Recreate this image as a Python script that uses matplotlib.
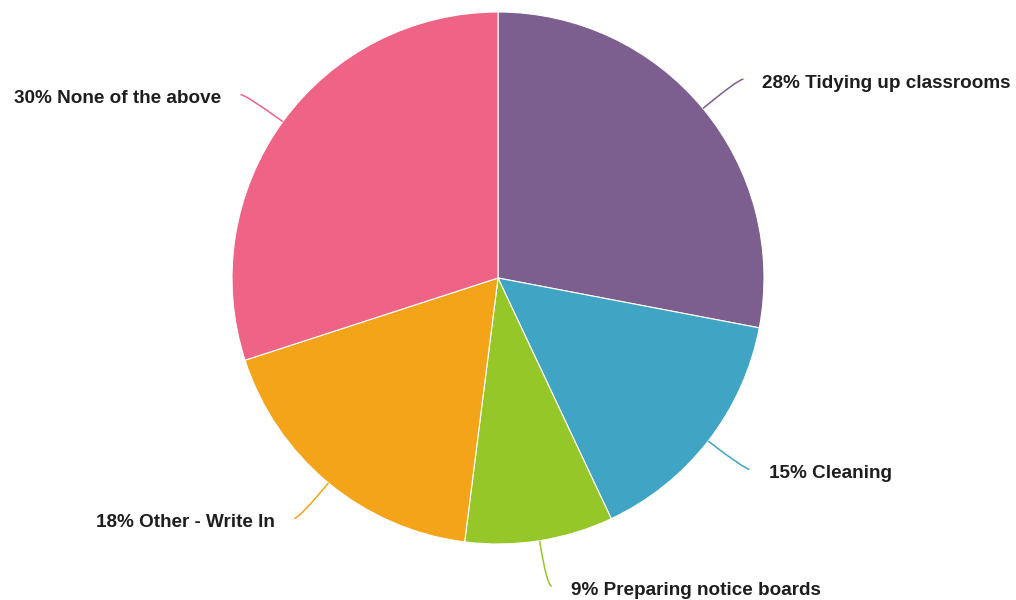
import numpy as np
import matplotlib
matplotlib.use("Agg")
import matplotlib.pyplot as plt
from matplotlib.path import Path
from matplotlib.patches import PathPatch

labels = ["Tidying up classrooms", "Cleaning", "Preparing notice boards",
          "Other - Write In", "None of the above"]
values = [28, 15, 9, 18, 30]
colors = ["#7C5F8F", "#40A4C4", "#95C729", "#F4A419", "#EF6386"]

W, H = 1016, 600
CX, CY, R = 498, H - 278, 266   # pie centre / radius in pixel coords
R_END = 312                     # where the leader lines stop

fig = plt.figure(figsize=(W / 100, H / 100), dpi=100)
ax = fig.add_axes([0, 0, 1, 1])

ax.pie(values, colors=colors, startangle=90, counterclock=False,
       center=(CX, CY), radius=R, frame=True,
       wedgeprops=dict(linewidth=0.8, edgecolor="white"))
ax.set_xlim(0, W)
ax.set_ylim(0, H)
ax.set_aspect("equal")
ax.axis("off")

# leader lines (radial start, horizontal finish) + labels
cum = np.cumsum([0] + values[:-1])
total = sum(values)
for lab, v, c0, col in zip(labels, values, cum, colors):
    ang = np.deg2rad((c0 + v / 2) / total * 360)   # clockwise from top
    dx, dy = np.sin(ang), np.cos(ang)
    right = dx >= 0
    side = 1 if right else -1
    sx, sy = CX + R * dx, CY + R * dy
    ex, ey = CX + R_END * dx + 5 * side, CY + R_END * dy
    t = (ey - sy) / dy
    cx_, cy_ = sx + t * dx, ey
    path = Path([(sx, sy), (cx_, cy_), (ex, ey)],
                [Path.MOVETO, Path.CURVE3, Path.CURVE3])
    ax.add_patch(PathPatch(path, fc="none", ec=col, lw=1.1))
    ax.text(ex + 19 * side, ey - 4, f"{v}% {lab}",
            ha="left" if right else "right", va="center",
            fontsize=13.6, fontweight="bold",
            family="Liberation Sans", color="#1e1e1e")

fig.savefig("out.png", dpi=100)
